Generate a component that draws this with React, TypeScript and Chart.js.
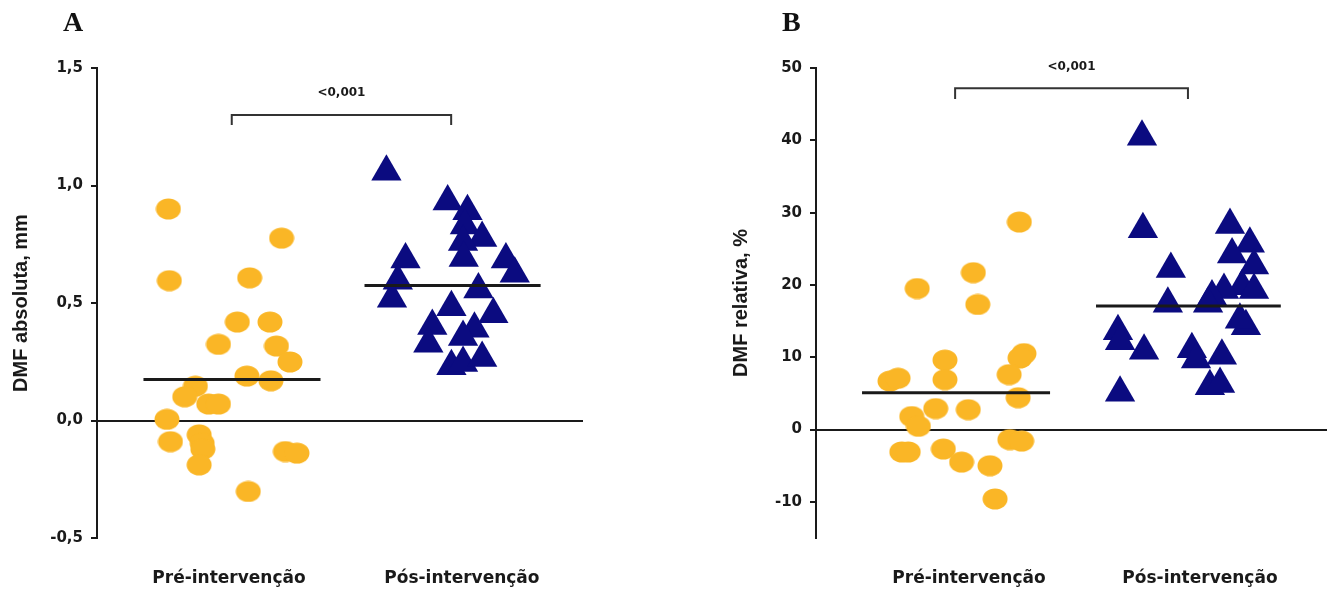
import React, { useEffect, useRef } from 'react';
import { Chart, registerables } from 'chart.js';

Chart.register(...registerables);

// ---------- data ----------
const categories = ['Pré-intervenção', 'Pós-intervenção'];
const pValueLabel = '<0,001';

// Panel A: DMF absoluta, mm
const absPre = [0.90, 0.776, 0.595, 0.607, 0.419, 0.419, 0.324, 0.317, 0.249, 0.189, 0.169, 0.146, 0.101, 0.070, 0.070, 0.005, -0.090, -0.061, -0.097, -0.122, -0.189, -0.132, -0.139, -0.302];
const absPreJitter = [-0.26, 0.226, -0.256, 0.089, 0.036, 0.176, -0.045, 0.204, 0.262, 0.077, 0.18, -0.144, -0.19, -0.087, -0.045, -0.266, -0.251, -0.128, -0.115, -0.112, -0.128, 0.242, 0.292, 0.083];
const absPost = [1.058, 0.932, 0.890, 0.83, 0.777, 0.76, 0.685, 0.692, 0.685, 0.624, 0.595, 0.557, 0.518, 0.482, 0.452, 0.402, 0.39, 0.355, 0.327, 0.231, 0.245, 0.266];
const absPostJitter = [-0.324, -0.061, 0.024, 0.013, 0.087, 0.005, -0.242, 0.008, 0.189, 0.227, -0.275, 0.071, -0.3, -0.045, 0.135, -0.127, 0.054, 0.005, -0.144, -0.045, 0.005, 0.087];
const absMeans = [0.174, 0.574];
const absTicks = [-0.5, 0, 0.5, 1, 1.5];

// Panel B: DMF relativa, %
const relPre = [28.7, 21.7, 19.5, 17.3, 10.5, 9.9, 9.6, 6.9, 6.7, 7.1, 7.6, 4.4, 2.9, 2.75, 1.8, 0.45, -3.1, -3.1, -2.7, -4.5, -5.0, -9.6, -1.4, -1.6];
const relPreJitter = [0.218, 0.019, -0.224, 0.038, 0.238, 0.221, -0.104, -0.104, -0.342, -0.307, 0.174, 0.213, -0.144, -0.003, -0.248, -0.219, -0.291, -0.263, -0.111, -0.032, 0.091, 0.113, 0.177, 0.228];
const relPost = [40.5, 27.7, 28.3, 25.7, 24.2, 22.7, 22.2, 19.8, 19.3, 19.3, 18.4, 17.4, 17.4, 14.3, 15.2, 13.6, 12.2, 10.9, 11.1, 9.7, 10.2, 6.0, 6.3, 5.1];
const relPostJitter = [-0.251, -0.247, 0.13, 0.216, 0.139, 0.234, -0.126, 0.182, 0.234, 0.104, 0.052, 0.035, -0.139, 0.199, 0.173, -0.355, -0.346, -0.242, -0.035, -0.017, 0.095, 0.043, 0.087, -0.346];
const relMeans = [5.1, 17.1];
const relTicks = [-10, 0, 10, 20, 30, 40, 50];

// ---------- styles ----------
const ORANGE = '#FAB626';
const NAVY = '#0B0B80';
const INK = '#1a1a1a';
const TICK_FONT = { family: '"DejaVu Sans", sans-serif', weight: 'bold' as const, size: 15 };
const CAT_FONT = { family: '"DejaVu Sans", sans-serif', weight: 'bold' as const, size: 17 };
const TITLE_FONT = { family: '"Liberation Sans", Arial, sans-serif', weight: 'bold' as const, size: 20 };

function ellipseSprite(color: string) {
  const c = document.createElement('canvas');
  c.width = 26;
  c.height = 22;
  const g = c.getContext('2d')!;
  g.fillStyle = color;
  g.beginPath();
  g.ellipse(13, 11, 12.5, 10.5, 0, 0, Math.PI * 2);
  g.fill();
  return c;
}

interface PanelCfg {
  pre: number[];
  preJitter: number[];
  post: number[];
  postJitter: number[];
  means: number[];
  ticks: number[];
  yMin: number;
  yMax: number;
  xMin: number;
  xMax: number;
  axisWidth: number;
  padRight: number;
  title: string;
  titleOffset: number;
  fmt: (v: number) => string;
  meanSpans: [number, number][];
  bracket: { x1: number; x2: number; yTop: number; yLow: number; yText: number };
}

function buildChart(canvas: HTMLCanvasElement, cfg: PanelCfg) {
  const sprite = ellipseSprite(ORANGE);
  const meanLine = (cat: number, k: number) => [
    { x: cat + cfg.meanSpans[k][0], y: cfg.means[k] },
    { x: cat + cfg.meanSpans[k][1], y: cfg.means[k] },
  ];
  const b = cfg.bracket;
  const pLabelPlugin = {
    id: 'pLabel',
    afterDraw(chart: any) {
      const { ctx, scales } = chart;
      ctx.save();
      ctx.fillStyle = INK;
      ctx.font = 'bold 12px "DejaVu Sans", sans-serif';
      ctx.textAlign = 'center';
      ctx.textBaseline = 'middle';
      ctx.fillText(pValueLabel, scales.x.getPixelForValue((b.x1 + b.x2) / 2), scales.y.getPixelForValue(b.yText));
      ctx.restore();
    },
  };
  return new Chart(canvas, {
    type: 'scatter',
    data: {
      datasets: [
        {
          label: 'mean pre',
          data: meanLine(1, 0),
          showLine: true,
          borderColor: INK,
          borderWidth: 3,
          pointRadius: 0,
          order: 0,
        },
        {
          label: 'mean post',
          data: meanLine(2, 1),
          showLine: true,
          borderColor: INK,
          borderWidth: 3,
          pointRadius: 0,
          order: 0,
        },
        {
          label: 'bracket',
          data: [
            { x: b.x1, y: b.yLow },
            { x: b.x1, y: b.yTop },
            { x: b.x2, y: b.yTop },
            { x: b.x2, y: b.yLow },
          ],
          showLine: true,
          borderColor: '#333',
          borderWidth: 2,
          pointRadius: 0,
          order: 0,
        },
        {
          label: categories[1],
          data: cfg.post.map((v, i) => ({ x: 2 + cfg.postJitter[i], y: v })),
          pointStyle: 'triangle',
          pointRadius: 17.5,
          backgroundColor: NAVY,
          borderColor: NAVY,
          borderWidth: 0,
          order: 1,
        },
        {
          label: categories[0],
          data: cfg.pre.map((v, i) => ({ x: 1 + cfg.preJitter[i], y: v })),
          pointStyle: sprite as any,
          pointRadius: 11,
          backgroundColor: ORANGE,
          borderWidth: 0,
          order: 2,
        },
      ],
    },
    options: {
      animation: false,
      responsive: false,
      devicePixelRatio: 1,
      events: [],
      layout: { autoPadding: false, padding: { left: 0, right: cfg.padRight, top: 68, bottom: 0 } },
      plugins: { legend: { display: false }, tooltip: { enabled: false } },
      scales: {
        x: {
          type: 'linear',
          min: cfg.xMin,
          max: cfg.xMax,
          grid: { display: false, drawTicks: false },
          border: { display: false },
          afterBuildTicks: (s: any) => {
            s.ticks = [{ value: 1 }, { value: 2 }];
          },
          afterFit: (s: any) => {
            s.height = 56;
          },
          ticks: {
            autoSkip: false,
            maxRotation: 0,
            padding: 30,
            color: INK,
            font: CAT_FONT,
            callback: (v: any) => categories[Math.round(Number(v)) - 1] ?? '',
          },
        },
        y: {
          type: 'linear',
          min: cfg.yMin,
          max: cfg.yMax,
          afterBuildTicks: (s: any) => {
            s.ticks = cfg.ticks.map((v) => ({ value: v }));
          },
          afterFit: (s: any) => {
            s.width = cfg.axisWidth;
          },
          border: { display: true, color: INK, width: 2 },
          grid: {
            drawTicks: true,
            tickLength: 6,
            tickColor: INK,
            tickWidth: 2,
            lineWidth: 2,
            color: (ctx: any) => (ctx.tick && ctx.tick.value === 0 ? INK : 'rgba(0,0,0,0)'),
          },
          ticks: {
            padding: 8,
            color: INK,
            font: TICK_FONT,
            callback: (v: any) => cfg.fmt(Number(v)),
          },
          title: {
            display: true,
            text: cfg.title,
            color: INK,
            font: TITLE_FONT,
            padding: { top: cfg.titleOffset, bottom: 0 },
          },
        },
      },
    },
    plugins: [pLabelPlugin],
  });
}

const panelA: PanelCfg = {
  pre: absPre,
  preJitter: absPreJitter,
  post: absPost,
  postJitter: absPostJitter,
  means: absMeans,
  ticks: absTicks,
  yMin: -0.5,
  yMax: 1.5,
  xMin: 0.4335,
  xMax: 2.52,
  axisWidth: 97,
  padRight: 82,
  title: 'DMF absoluta, mm',
  titleOffset: 9,
  fmt: (v) => v.toFixed(1).replace('.', ','),
  meanSpans: [
    [-0.367, 0.393],
    [-0.418, 0.338],
  ],
  bracket: { x1: 1.012, x2: 1.954, yTop: 1.30, yLow: 1.257, yText: 1.394 },
};

const panelB: PanelCfg = {
  pre: relPre,
  preJitter: relPreJitter,
  post: relPost,
  postJitter: relPostJitter,
  means: relMeans,
  ticks: relTicks,
  yMin: -15,
  yMax: 50,
  xMin: 0.3377,
  xMax: 2.55,
  axisWidth: 151,
  padRight: 3,
  title: 'DMF relativa, %',
  titleOffset: 64,
  fmt: (v) => String(v),
  meanSpans: [
    [-0.463, 0.351],
    [-0.45, 0.35],
  ],
  bracket: { x1: 0.94, x2: 1.948, yTop: 47.2, yLow: 45.7, yText: 50.1 },
};

function Panel({ cfg, left }: { cfg: PanelCfg; left: number }) {
  const ref = useRef<HTMLCanvasElement | null>(null);
  useEffect(() => {
    if (!ref.current) return;
    const chart = buildChart(ref.current, cfg);
    return () => chart.destroy();
  }, [cfg]);
  return (
    <canvas
      ref={ref}
      width={665}
      height={594}
      style={{ position: 'absolute', left, top: 0, width: 665, height: 594 }}
    />
  );
}

const letterStyle: React.CSSProperties = {
  position: 'absolute',
  top: 8,
  fontFamily: '"Liberation Serif", "Times New Roman", serif',
  fontWeight: 'bold',
  fontSize: 28,
  lineHeight: '28px',
  color: '#111',
};

export default function App() {
  return (
    <div
      style={{
        position: 'fixed',
        left: 0,
        top: 0,
        width: 1330,
        height: 594,
        background: '#fff',
        overflow: 'hidden',
      }}
    >
      <Panel cfg={panelA} left={0} />
      <Panel cfg={panelB} left={665} />
      <div style={{ ...letterStyle, left: 63 }}>A</div>
      <div style={{ ...letterStyle, left: 782 }}>B</div>
    </div>
  );
}
